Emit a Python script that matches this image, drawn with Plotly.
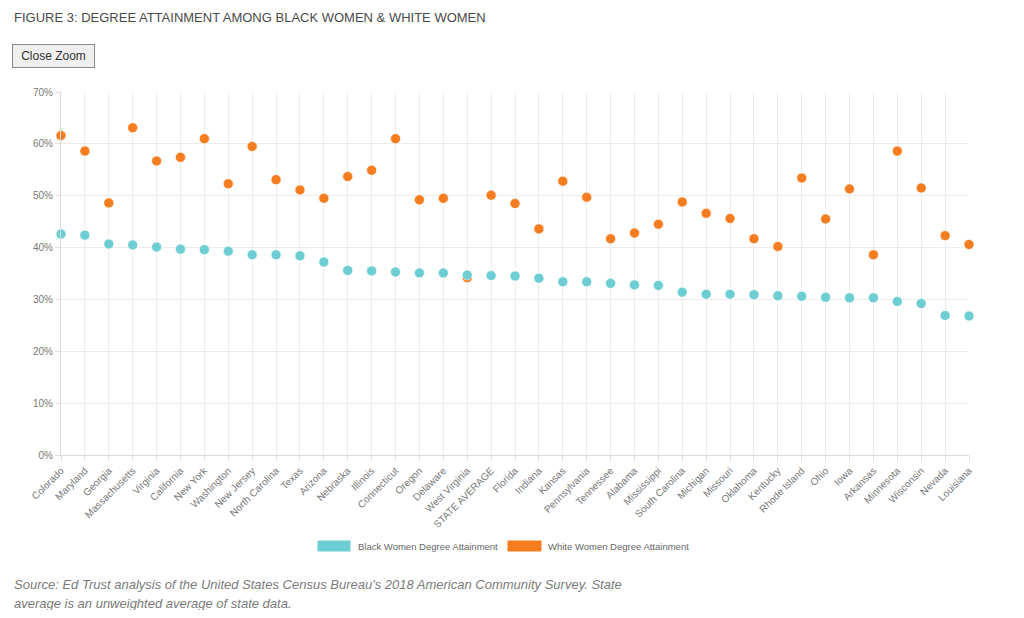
import plotly.graph_objects as go

states = ["Colorado", "Maryland", "Georgia", "Massachusetts", "Virginia", "California",
          "New York", "Washington", "New Jersey", "North Carolina", "Texas", "Arizona",
          "Nebraska", "Illinois", "Connecticut", "Oregon", "Delaware", "West Virginia",
          "STATE AVERAGE", "Florida", "Indiana", "Kansas", "Pennsylvania", "Tennessee",
          "Alabama", "Mississippi", "South Carolina", "Michigan", "Missouri", "Oklahoma",
          "Kentucky", "Rhode Island", "Ohio", "Iowa", "Arkansas", "Minnesota",
          "Wisconsin", "Nevada", "Louisiana"]

black_women = [42.6, 42.4, 40.7, 40.5, 40.1, 39.7, 39.6, 39.3, 38.6, 38.6, 38.4, 37.2,
               35.6, 35.5, 35.3, 35.1, 35.1, 34.7, 34.6, 34.5, 34.1, 33.4, 33.4, 33.1,
               32.8, 32.7, 31.4, 31.0, 31.0, 30.9, 30.7, 30.6, 30.4, 30.3, 30.3, 29.6,
               29.2, 26.9, 26.8]

white_women = [61.6, 58.6, 48.6, 63.1, 56.7, 57.4, 61.0, 52.3, 59.5, 53.1, 51.1, 49.5,
               53.7, 54.9, 61.0, 49.2, 49.5, 34.2, 50.1, 48.5, 43.6, 52.8, 49.7, 41.7,
               42.8, 44.5, 48.8, 46.6, 45.6, 41.7, 40.2, 53.4, 45.5, 51.3, 38.6, 58.6,
               51.5, 42.3, 40.6]

y_ticks = [0, 10, 20, 30, 40, 50, 60, 70]
y_labels = [f"{v}%" for v in y_ticks]

BLACK_COLOR = "#6ccdd3"
WHITE_COLOR = "#f57c1f"

xs = list(range(len(states)))

# page offset (body margin) compensation
OFF = 8
W, H = 1008, 602
PL, PR, PT, PB = 61 - OFF, 969 - OFF, 92 - OFF, 455 - OFF
PW, PH = PR - PL, PB - PT

fig = go.Figure()
fig.add_trace(go.Scatter(
    x=xs, y=white_women, mode="markers", name="White Women Degree Attainment",
    marker=dict(size=10, color=WHITE_COLOR, line=dict(width=1, color="rgba(255,255,255,0.6)")),
    cliponaxis=False, showlegend=False))
fig.add_trace(go.Scatter(
    x=xs, y=black_women, mode="markers", name="Black Women Degree Attainment",
    marker=dict(size=10, color=BLACK_COLOR, line=dict(width=1, color="rgba(255,255,255,0.6)")),
    cliponaxis=False, showlegend=False))

font_family = "Liberation Sans, Arial, sans-serif"

fig.update_layout(
    width=W, height=H,
    margin=dict(l=PL, r=W - PR, t=PT, b=H - PB),
    paper_bgcolor="white", plot_bgcolor="white",
    font=dict(family=font_family, color="#666"),
    xaxis=dict(
        range=[0, len(states) - 1], tickmode="array", tickvals=xs, ticktext=states,
        tickangle=-45, tickfont=dict(size=10, color="#777"),
        showgrid=True, gridcolor="#ececec", gridwidth=1,
        showline=True, linecolor="#d9d9d9", linewidth=1,
        ticks="outside", ticklen=5, tickcolor="#e0e0e0", zeroline=False, fixedrange=True),
    yaxis=dict(
        range=[0, 70], tickmode="array", tickvals=y_ticks, ticktext=y_labels,
        tickfont=dict(size=10, color="#777"),
        showgrid=True, gridcolor="#ececec", gridwidth=1,
        showline=True, linecolor="#d9d9d9", linewidth=1,
        ticks="outside", ticklen=5, tickcolor="#e0e0e0", zeroline=False, fixedrange=True),
)


def px_x(p):
    return (p - OFF - PL) / PW


def px_y(p):
    return (PB - (p - OFF)) / PH


annotations = []
shapes = []

# Title
annotations.append(dict(
    text="FIGURE 3: DEGREE ATTAINMENT AMONG BLACK WOMEN &amp; WHITE WOMEN",
    xref="paper", yref="paper", x=px_x(12), y=px_y(17), xanchor="left", yanchor="middle",
    showarrow=False, font=dict(size=13, color="#4a4a4a", family=font_family)))

# Close Zoom button
annotations.append(dict(
    text="Close Zoom", xref="paper", yref="paper",
    x=px_x(12), y=px_y(56), xanchor="left", yanchor="middle",
    showarrow=False, font=dict(size=12, color="#333", family=font_family),
    bgcolor="#efefef", bordercolor="#8a8a8a", borderwidth=1, borderpad=3,
    width=75, height=16))

# Legend (manual)
legend_items = [("Black Women Degree Attainment", BLACK_COLOR, 318, 350, 356),
                ("White Women Degree Attainment", WHITE_COLOR, 508, 541, 546)]
for label, color, x0, x1, tx in legend_items:
    shapes.append(dict(type="rect", xref="paper", yref="paper",
                       x0=px_x(x0), x1=px_x(x1), y0=px_y(551), y1=px_y(541),
                       fillcolor=color, line=dict(width=1, color=color)))
    annotations.append(dict(text=label, xref="paper", yref="paper",
                            x=px_x(tx), y=px_y(546), xanchor="left", yanchor="middle",
                            showarrow=False, font=dict(size=9.5, color="#666", family=font_family)))

# Source
source_lines = [("Source: Ed Trust analysis of the United States Census Bureau's 2018 American Community Survey. State", 584),
                ("average is an unweighted average of state data.", 603)]
for line, ypx in source_lines:
    annotations.append(dict(
        text=f"<i>{line}</i>",
        xref="paper", yref="paper", x=px_x(12), y=px_y(ypx), xanchor="left", yanchor="middle",
        align="left", showarrow=False, font=dict(size=13, color="#7a7a7a", family=font_family)))

fig.update_layout(annotations=annotations, shapes=shapes)

fig.write_html("out.html")
